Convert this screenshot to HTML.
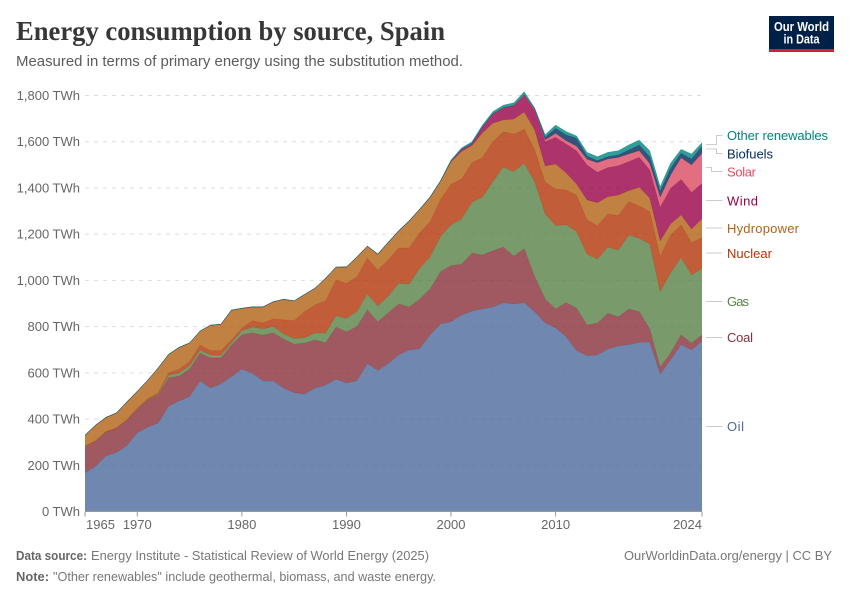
<!DOCTYPE html>
<html lang="en">
<head>
<meta charset="utf-8">
<title>Energy consumption by source, Spain</title>
<style>
html,body{margin:0;padding:0;background:#fff;}
svg{display:block;font-family:"Liberation Sans",sans-serif;}
</style>
</head>
<body>
<svg id="chart" width="850" height="600" viewBox="0 0 850 600" xmlns="http://www.w3.org/2000/svg">
  <rect x="0" y="0" width="850" height="600" fill="#fff"/>
  <text x="16" y="40" font-family="'Liberation Serif',serif" font-weight="700" font-size="27" fill="#373737" textLength="429" lengthAdjust="spacingAndGlyphs">Energy consumption by source, Spain</text>
  <text x="16" y="66" font-size="15" fill="#5b5b5b" textLength="447" lengthAdjust="spacingAndGlyphs">Measured in terms of primary energy using the substitution method.</text>

  <g>
    <rect x="769" y="16" width="65" height="36" fill="#002147"/>
    <rect x="769" y="49" width="65" height="3" fill="#ce261e"/>
    <text x="801.5" y="31" text-anchor="middle" font-size="13" font-weight="700" fill="#fff" textLength="55" lengthAdjust="spacingAndGlyphs">Our World</text>
    <text x="801.5" y="43.5" text-anchor="middle" font-size="13" font-weight="700" fill="#fff" textLength="36" lengthAdjust="spacingAndGlyphs">in Data</text>
  </g>

  <g id="grid"></g>
  <g id="areas"></g>
  <g id="axes"></g>

  <g fill="none" stroke="#ccc" stroke-width="1">
    <path d="M706 144.5H716.5V135.5H722.5"/>
    <path d="M706 149H716.5V153.5H722.5"/>
    <path d="M706 167.5H711.5V171.5H722.5"/>
    <path d="M706 200.5H722.5"/>
    <path d="M706 228H722.5"/>
    <path d="M706 253H722.5"/>
    <path d="M706 301.5H722.5"/>
    <path d="M706 337.5H722.5"/>
    <path d="M706 426.5H722.5"/>
  </g>
  <g font-size="13">
    <text x="727" y="140" fill="#00847e" textLength="101" lengthAdjust="spacing">Other renewables</text>
    <text x="727" y="158.5" fill="#00295b" textLength="46" lengthAdjust="spacing">Biofuels</text>
    <text x="727" y="176.5" fill="#e04e66" textLength="29" lengthAdjust="spacing">Solar</text>
    <text x="727" y="205.5" fill="#970046" textLength="31" lengthAdjust="spacing">Wind</text>
    <text x="727" y="233" fill="#b16214" textLength="72" lengthAdjust="spacing">Hydropower</text>
    <text x="727" y="258" fill="#b13507" textLength="45" lengthAdjust="spacing">Nuclear</text>
    <text x="727" y="306" fill="#578145" textLength="22" lengthAdjust="spacing">Gas</text>
    <text x="727" y="342" fill="#883039" textLength="26" lengthAdjust="spacing">Coal</text>
    <text x="727" y="431" fill="#4c6a9c" textLength="17" lengthAdjust="spacing">Oil</text>
  </g>

  <g font-size="13" fill="#777777">
    <text x="16" y="560" font-weight="700" fill="#666666" textLength="71" lengthAdjust="spacingAndGlyphs">Data source:</text>
    <text x="91" y="560" textLength="338" lengthAdjust="spacingAndGlyphs">Energy Institute - Statistical Review of World Energy (2025)</text>
    <text x="624" y="560" textLength="208" lengthAdjust="spacingAndGlyphs">OurWorldinData.org/energy | CC BY</text>
    <text x="16" y="581" font-weight="700" fill="#666666" textLength="33" lengthAdjust="spacingAndGlyphs">Note:</text>
    <text x="53" y="581" textLength="383" lengthAdjust="spacingAndGlyphs">"Other renewables" include geothermal, biomass, and waste energy.</text>
  </g>
</svg>

<script>
var firstYear = 1965;
var oil = [167,195,240,255,285,340,365,383,456,478,497,565,534,552,583,616,598,565,564,534,514,508,534,547,573,556,566,640,610,640,677,699,704,764,811,821,850,867,876,885,903,898,903,864,816,794,756,696,674,677,703,716,722,732,733,595,656,722,699,738];
var coal = [116,110,105,106,111,103,117,121,122,108,119,120,130,112,137,148,175,198,209,212,210,221,208,183,225,222,234,232,211,220,221,186,215,199,227,243,220,251,234,243,241,207,234,152,104,82,148,184,133,138,155,126,154,133,57,30,30,42,30,26];
var gas = [0,0,0,0,0,1,1,4,12,14,15,14,13,13,10,18,25,27,27,22,24,23,30,42,49,57,65,69,68,72,89,99,133,139,152,176,195,220,250,299,346,365,370,411,367,361,337,331,306,277,286,289,320,317,367,326,347,334,294,288];
var nuclear = [0,0,0,0,1,3,6,6,10,16,17,21,19,19,12,12,28,25,33,61,78,113,122,139,155,152,151,155,156,156,154,156,153,152,160,176,173,171,171,173,153,163,147,137,138,158,150,158,149,145,143,149,145,140,140,152,163,142,140,133];
var hydropower = [47,68,62,65,77,73,79,107,80,94,81,60,110,114,129,85,59,70,74,89,85,74,72,98,55,71,85,52,68,76,73,117,102,105,78,97,119,74,107,80,51,65,74,87,70,108,74,48,86,99,75,89,47,81,59,67,48,43,59,81];
var wind = [0,0,0,0,0,0,0,0,0,0,0,0,0,0,0,0,0,0,0,0,0,0,0,0,0,0,0,0,0,0,0,0,0,1,2,3,10,9,25,40,51,57,72,84,105,116,125,144,151,132,126,127,126,130,122,146,154,154,159,154];
var solar = [0,0,0,0,0,0,0,0,0,0,0,0,0,0,0,0,0,0,0,0,0,0,0,0,0,0,0,0,0,0,0,0,0,0,0,0,0,0,0,0,1,1,2,5,8,17,14,20,25,41,37,36,33,28,28,44,58,93,118,130];
var biofuels = [0,0,0,0,0,0,0,0,0,0,0,0,0,0,0,0,0,0,0,0,0,0,0,0,0,0,0,0,0,0,0,0,0,0,0,0,0,0,0,0,1,1,1,2,10,22,25,34,14,9,10,11,17,25,29,25,29,20,26,31];
var otherRenewables = [1,1,1,1,1,1,1,1,1,1,1,1,1,1,1,1,1,1,1,1,1,1,1,1,1,1,1,1,2,2,2,2,2,2,2,5,6,8,9,10,11,11,13,4,12,14,15,10,16,17,19,18,22,21,26,20,22,17,22,15];

var seriesOrder = ["oil","coal","gas","nuclear","hydropower","wind","solar","biofuels","other-renewables"];
var seriesValues = [oil,coal,gas,nuclear,hydropower,wind,solar,biofuels,otherRenewables];
var seriesColors = ["#4c6a9c","#883039","#578145","#b13507","#b16214","#970046","#d94a62","#00295b","#00847e"];

var yTickValues = [0,200,400,600,800,1000,1200,1400,1600,1800];
var yTickLabels = ["0 TWh","200 TWh","400 TWh","600 TWh","800 TWh","1,000 TWh","1,200 TWh","1,400 TWh","1,600 TWh","1,800 TWh"];
var xTickYears = [1965,1970,1980,1990,2000,2010,2024];
var xTickLabels = ["1965","1970","1980","1990","2000","2010","2024"];

var NS = "http://www.w3.org/2000/svg";
var PLOT_LEFT = 85, PLOT_RIGHT = 702, PLOT_BOTTOM = 511.5, PLOT_TOP = 95.5;
var lastYear = firstYear + oil.length - 1;

function xScale(year) {
  return PLOT_LEFT + (year - firstYear) / (lastYear - firstYear) * (PLOT_RIGHT - PLOT_LEFT);
}
function yScale(v) {
  return PLOT_BOTTOM - v / 1800 * (PLOT_BOTTOM - PLOT_TOP);
}
function make(tag, attrs, parent, text) {
  var el = document.createElementNS(NS, tag);
  for (var k in attrs) el.setAttribute(k, attrs[k]);
  if (text !== undefined) el.textContent = text;
  parent.appendChild(el);
  return el;
}

var gridG = document.getElementById("grid");
var axesG = document.getElementById("axes");
var areasG = document.getElementById("areas");

yTickValues.forEach(function (v, i) {
  var y = yScale(v);
  if (v !== 0) {
    var line = make("line", {x1: PLOT_LEFT, x2: PLOT_RIGHT, y1: y, y2: y, stroke: "#dddddd", "stroke-width": 1, "stroke-dasharray": "4,5"}, gridG);
    
    
  }
  var label = make("text", {x: 80, y: y + 4.5, "text-anchor": "end", "font-size": 13, fill: "#666666"}, axesG, yTickLabels[i]);
  
  
});

var baseline = new Array(oil.length).fill(0);
seriesValues.forEach(function (vals, s) {
  var top = vals.map(function (v, i) { return baseline[i] + v; });
  var upper = top.map(function (v, i) { return xScale(firstYear + i).toFixed(2) + " " + yScale(v).toFixed(2); });
  var lower = baseline.map(function (v, i) { return xScale(firstYear + i).toFixed(2) + " " + yScale(v).toFixed(2); }).reverse();
  var area = make("path", {d: "M" + upper.join("L") + "L" + lower.join("L") + "Z", fill: seriesColors[s], "fill-opacity": 0.8, stroke: "none"}, areasG);
  
  
  var edge = make("path", {d: "M" + upper.join("L"), fill: "none", stroke: seriesColors[s], "stroke-width": 0.5, "stroke-opacity": 0.7}, areasG);
  
  
  baseline = top;
});

var xAxis = make("line", {x1: PLOT_LEFT, x2: PLOT_RIGHT, y1: PLOT_BOTTOM, y2: PLOT_BOTTOM, stroke: "#999999", "stroke-width": 1}, axesG);



xTickYears.forEach(function (yr, i) {
  var x = xScale(yr);
  var tick = make("line", {x1: x, x2: x, y1: PLOT_BOTTOM, y2: PLOT_BOTTOM + 5, stroke: "#999999", "stroke-width": 1}, axesG);
  
  
  var anchor = "middle";
  if (i === 0) anchor = "start";
  if (i === xTickYears.length - 1) anchor = "end";
  var label = make("text", {x: x + (i === 0 ? 1 : 0), y: 529, "text-anchor": anchor, "font-size": 13, fill: "#666666"}, axesG, xTickLabels[i]);
  
  
});
</script>
</body>
</html>
